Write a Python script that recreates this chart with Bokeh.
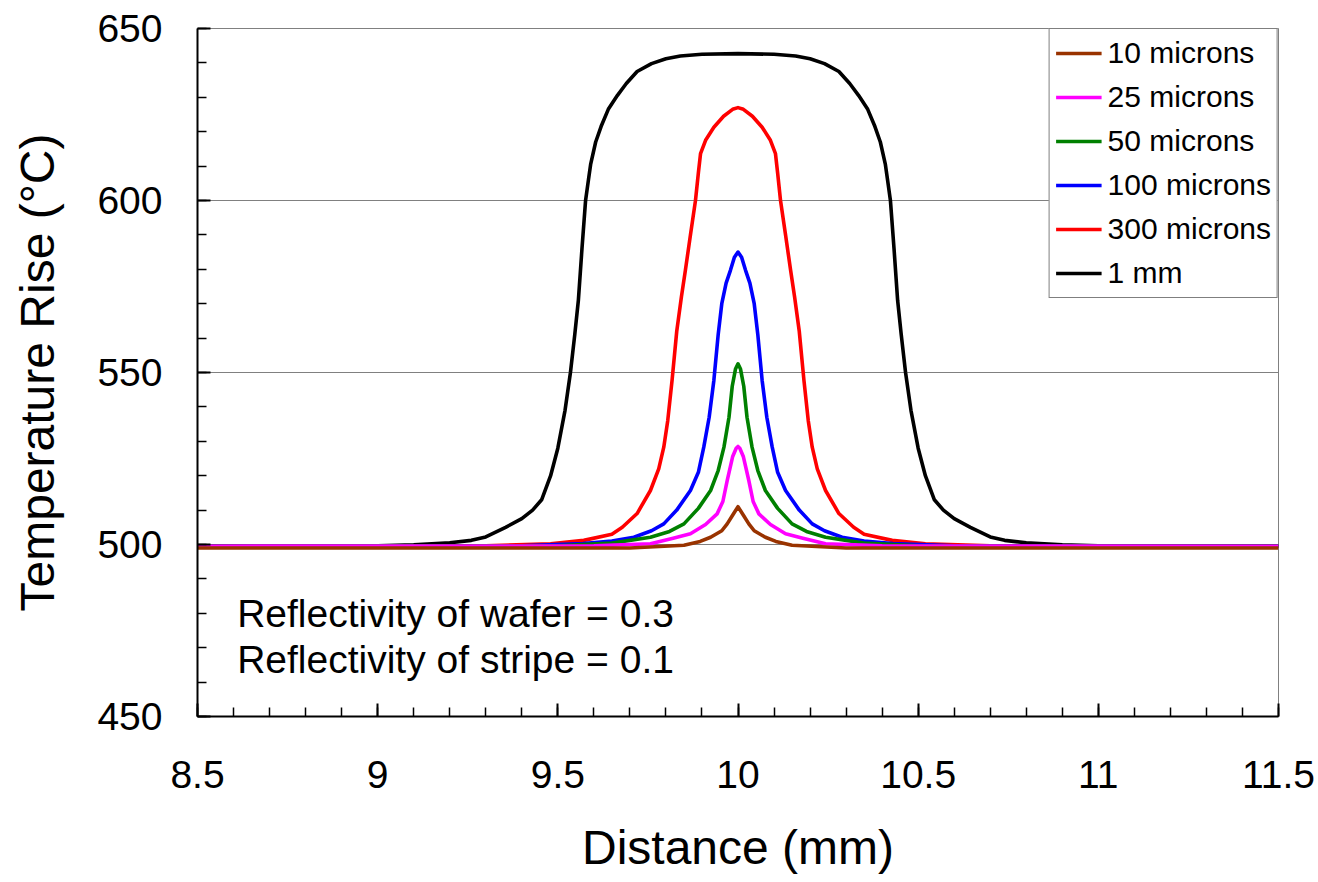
from bokeh.plotting import figure
from bokeh.models import (SingleIntervalTicker, Legend, LegendItem, Label, ColumnDataSource)
from bokeh.embed import file_html
from bokeh.resources import INLINE

FONT = "Liberation Sans"

# ---- data ----
x_1mm = [8.5, 9.0, 9.1, 9.2, 9.26, 9.3, 9.355, 9.4, 9.43, 9.455, 9.48, 9.5, 9.52, 9.535, 9.547, 9.557, 9.567, 9.577,
         9.585, 9.591, 9.605, 9.62, 9.64, 9.665, 9.69, 9.72, 9.76, 9.8, 9.84, 9.9, 10.0,
         10.1, 10.16, 10.2, 10.24, 10.28, 10.31, 10.335, 10.36, 10.38, 10.395, 10.409, 10.415,
         10.423, 10.433, 10.443, 10.453, 10.465, 10.48, 10.5, 10.52, 10.545, 10.57, 10.6, 10.645, 10.7, 10.74,
         10.8, 10.9, 11.0, 11.5]
y_1mm = [499.5, 499.6, 499.9, 500.5, 501.2, 502.2, 505, 507.5, 510, 513, 520, 528, 539, 550, 561, 571, 586, 600,
         606, 610.5, 617, 621.5, 626.5, 630.5, 634, 637.5, 639.8, 641.2, 642, 642.5, 642.7,
         642.5, 642, 641.2, 639.8, 637.5, 634, 630.5, 626.5, 621.5, 617, 610.5, 606,
         600, 586, 571, 561, 550, 539, 528, 520, 513, 510, 507.5, 505, 502.2, 501.2,
         500.5, 499.9, 499.6, 499.5]

x_300 = [8.5, 9.3, 9.48, 9.572, 9.65, 9.679, 9.72, 9.757, 9.78, 9.794, 9.805, 9.817, 9.83, 9.843, 9.854, 9.868,
         9.882, 9.89, 9.896, 9.91, 9.933, 9.96, 9.985, 10.0,
         10.015, 10.04, 10.067, 10.09, 10.104, 10.11, 10.118, 10.132, 10.146, 10.157, 10.17, 10.183, 10.195,
         10.206, 10.22, 10.243, 10.28, 10.321, 10.35, 10.428, 10.52, 10.7, 11.5]
y_300 = [499.5, 499.6, 500.2, 501.2, 503, 505, 509, 515.7, 522, 528.3, 536, 547.7, 562, 572, 579.7, 590,
         600, 608, 613.6, 617.5, 621.3, 624.5, 626.5, 627,
         626.5, 624.5, 621.3, 617.5, 613.6, 608, 600, 590, 579.7, 572, 562, 547.7, 536,
         528.3, 522, 515.7, 509, 505, 503, 501.2, 500.2, 499.6, 499.5]

x_100 = [8.5, 9.4, 9.57, 9.65, 9.711, 9.76, 9.794, 9.83, 9.868, 9.89, 9.905, 9.92, 9.933, 9.945, 9.955, 9.967,
         9.979, 9.99, 10.0,
         10.01, 10.021, 10.033, 10.045, 10.055, 10.067, 10.08, 10.095, 10.11, 10.132, 10.17, 10.206, 10.24,
         10.289, 10.35, 10.43, 10.6, 11.5]
y_100 = [499.5, 499.6, 500.3, 501, 502.1, 504, 506, 510, 515.7, 521, 528.3, 537, 547.7, 561, 570, 576,
         579.7, 583.5, 585,
         583.5, 579.7, 576, 570, 561, 547.7, 537, 528.3, 521, 515.7, 510, 506, 504,
         502.1, 501, 500.3, 499.6, 499.5]

x_50 = [8.5, 9.5, 9.65, 9.757, 9.81, 9.85, 9.89, 9.924, 9.945, 9.961, 9.975, 9.984, 9.993, 10.0,
        10.007, 10.016, 10.025, 10.039, 10.055, 10.076, 10.11, 10.15, 10.19, 10.243, 10.35, 10.5, 11.5]
y_50 = [499.5, 499.6, 500.4, 502.1, 503.8, 506, 510.5, 515.7, 521.5, 528.3, 537, 546, 551, 552.5,
        551, 546, 537, 528.3, 521.5, 515.7, 510.5, 506, 503.8, 502.1, 500.4, 499.6, 499.5]

x_25 = [8.5, 9.6, 9.757, 9.82, 9.868, 9.91, 9.942, 9.958, 9.97, 9.985, 9.995, 10.0,
        10.005, 10.015, 10.03, 10.042, 10.058, 10.09, 10.132, 10.18, 10.243, 10.4, 11.5]
y_25 = [499.5, 499.6, 500.2, 501.8, 503.1, 505.8, 508.9, 512.5, 518.6, 525.5, 528, 528.5,
        528, 525.5, 518.6, 512.5, 508.9, 505.8, 503.1, 501.8, 500.2, 499.6, 499.5]

x_10 = [8.5, 9.7, 9.85, 9.895, 9.924, 9.955, 9.97, 9.985, 10.0,
        10.015, 10.03, 10.045, 10.076, 10.105, 10.15, 10.3, 11.5]
y_10 = [499, 499, 499.8, 500.9, 502.1, 504, 506, 508.5, 511,
        508.5, 506, 504, 502.1, 500.9, 499.8, 499, 499]

series_names = ["10 microns", "25 microns", "50 microns", "100 microns", "300 microns", "1 mm"]
series_colors = ["#993300", "#FF00FF", "#008000", "#0000FF", "#FF0000", "#000000"]
series_x = [x_10, x_25, x_50, x_100, x_300, x_1mm]
series_y = [y_10, y_25, y_50, y_100, y_300, y_1mm]

annotations = ["Reflectivity of wafer = 0.3", "Reflectivity of stripe = 0.1"]
annotation_y = [480, 466.5]

p = figure(width=1318, height=882, output_backend="svg", toolbar_location=None,
           x_range=(8.5, 11.5), y_range=(450, 650),
           min_border_left=197, min_border_right=40, min_border_top=28, min_border_bottom=166,
           background_fill_color="white", border_fill_color="white")

p.outline_line_color = "#808080"
p.outline_line_width = 1

# axes
p.xaxis.ticker = SingleIntervalTicker(interval=0.5, num_minor_ticks=5)
p.yaxis.ticker = SingleIntervalTicker(interval=50, num_minor_ticks=5)
p.xaxis.major_label_overrides = {8.5: "8.5", 9: "9", 9.5: "9.5", 10: "10", 10.5: "10.5", 11: "11", 11.5: "11.5"}
for ax in (p.xaxis[0], p.yaxis[0]):
    ax.axis_line_color = "black"
    ax.axis_line_width = 2
    ax.major_tick_line_color = "black"
    ax.minor_tick_line_color = "black"
    ax.major_tick_line_width = 2
    ax.minor_tick_line_width = 1.5
    ax.major_tick_in = 13
    ax.major_tick_out = 0
    ax.minor_tick_in = 9
    ax.minor_tick_out = 0
    ax.major_label_text_font = FONT
    ax.major_label_text_font_size = "39px"
    ax.major_label_text_color = "black"
    ax.axis_label_text_font = FONT
    ax.axis_label_text_font_size = "48px"
    ax.axis_label_text_font_style = "normal"
    ax.axis_label_text_color = "black"

p.xaxis.axis_label = "Distance (mm)"
p.yaxis.axis_label = "Temperature Rise (\u00b0C)"
p.xaxis.major_label_standoff = 44
p.yaxis.major_label_standoff = 35
p.xaxis.axis_label_standoff = 30
p.yaxis.axis_label_standoff = 30

p.xgrid.visible = False
p.ygrid.grid_line_color = "#808080"
p.ygrid.grid_line_width = 1
p.ygrid.ticker = SingleIntervalTicker(interval=50)

# lines, 1 mm first so brown is drawn on top
renderers = {}
for name, color, xs, ys in reversed(list(zip(series_names, series_colors, series_x, series_y))):
    src = ColumnDataSource(data=dict(x=xs, y=ys))
    renderers[name] = p.line("x", "y", source=src, line_color=color, line_width=3.6,
                             line_join="round")

legend = Legend(items=[LegendItem(label=n, renderers=[renderers[n]]) for n in series_names],
                location="top_right")
legend.label_text_font = FONT
legend.label_text_font_size = "30px"
legend.label_text_color = "black"
legend.border_line_color = "black"
legend.border_line_width = 1
legend.background_fill_color = "white"
legend.background_fill_alpha = 1
legend.glyph_width = 46
legend.glyph_height = 36
legend.label_height = 36
legend.label_standoff = 6
legend.spacing = 8
legend.padding = 6
legend.margin = 0
p.add_layout(legend, "center")

for txt, ty in zip(annotations, annotation_y):
    p.add_layout(Label(x=8.61, y=ty, text=txt, text_font=FONT, text_font_size="39px",
                       text_color="black", text_baseline="middle"))

open("out.html", "w").write(file_html(p, INLINE))
